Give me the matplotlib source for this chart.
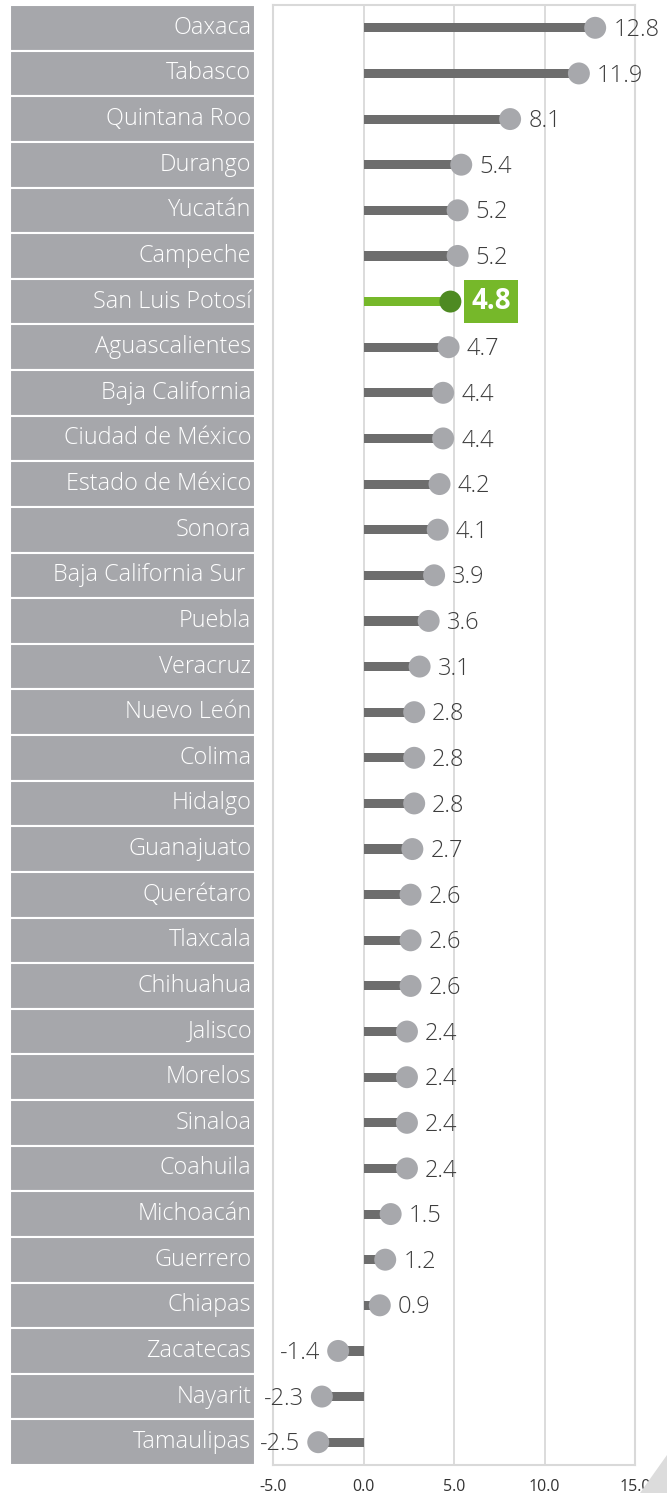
import matplotlib.pyplot as plt
from matplotlib.patches import Polygon

# Data
states = ['Oaxaca', 'Tabasco', 'Quintana Roo', 'Durango', 'Yucatán', 'Campeche',
          'San Luis Potosí', 'Aguascalientes', 'Baja California', 'Ciudad de México',
          'Estado de México', 'Sonora', 'Baja California Sur ', 'Puebla', 'Veracruz',
          'Nuevo León', 'Colima', 'Hidalgo', 'Guanajuato', 'Querétaro', 'Tlaxcala',
          'Chihuahua', 'Jalisco', 'Morelos', 'Sinaloa', 'Coahuila', 'Michoacán',
          'Guerrero', 'Chiapas', 'Zacatecas', 'Nayarit', 'Tamaulipas']
values = [12.8, 11.9, 8.1, 5.4, 5.2, 5.2, 4.8, 4.7, 4.4, 4.4, 4.2, 4.1, 3.9, 3.6, 3.1,
          2.8, 2.8, 2.8, 2.7, 2.6, 2.6, 2.6, 2.4, 2.4, 2.4, 2.4, 1.5, 1.2, 0.9,
          -1.4, -2.3, -2.5]
highlight = 'San Luis Potosí'
xticks = [-5, 0, 5, 10, 15]

plt.rcParams['font.family'] = ['Open Sans', 'DejaVu Sans']

W, H = 667, 1493
fig = plt.figure(figsize=(W / 100, H / 100), dpi=100)

top = 1 - 5 / H
bottom = 1 - 1465 / H
n = len(states)
ypos = list(range(n))

# Left label panel
ax_lab = fig.add_axes([10 / W, bottom, 245 / W, top - bottom])
ax_lab.barh(ypos, [1] * n, height=1.0, color='#a6a7ab', edgecolor='white', linewidth=1.5)
for y, s in zip(ypos, states):
    ax_lab.text(0.985, y, s, ha='right', va='center', color='white', fontsize=16.8,
                fontweight='light')
ax_lab.set_xlim(0, 1)
ax_lab.set_ylim(n - 0.5, -0.5)
ax_lab.axis('off')

# Lollipop plot
ax = fig.add_axes([273 / W, bottom, 362 / W, top - bottom])
bar_colors = ['#76b82a' if s == highlight else '#6d6d6d' for s in states]
dot_colors = ['#4e8a22' if s == highlight else '#a7a8ac' for s in states]
ax.barh(ypos, values, height=0.2, color=bar_colors, zorder=2)
ax.scatter(values, ypos, s=250, color=dot_colors, zorder=3, linewidths=0)

for y, v, s in zip(ypos, values, states):
    txt = f'{v:.1f}'
    if s == highlight:
        ax.annotate(txt, (v, y), xytext=(15, 0), textcoords='offset points',
                    ha='left', va='center', fontsize=20, fontweight='bold', color='white',
                    bbox=dict(boxstyle='square,pad=0.25', fc='#76b82a', ec='none'), zorder=4)
    elif v >= 0:
        ax.annotate(txt, (v, y), xytext=(13, -1.5), textcoords='offset points',
                    ha='left', va='center', fontsize=17, fontweight='light',
                    color='#3d3d3d', zorder=4)
    else:
        ax.annotate(txt, (v, y), xytext=(-13, -1.5), textcoords='offset points',
                    ha='right', va='center', fontsize=17, fontweight='light',
                    color='#3d3d3d', zorder=4)

ax.set_xlim(-5, 15)
ax.set_ylim(n - 0.5, -0.5)
ax.set_xticks(xticks)
ax.set_xticklabels([f'{t:.1f}' for t in xticks], fontsize=11.5, color='#333333')
ax.tick_params(axis='x', length=0, pad=10)
ax.set_yticks([])
ax.grid(axis='x', color='#d9d9d9', linewidth=1.3, zorder=0)
for sp in ax.spines.values():
    sp.set_color('#d9d9d9')
    sp.set_linewidth(1.5)

# corner decoration
fig.patches.append(Polygon([[1.0, 1 - 1455 / H], [1.0, 0.0], [640 / W, 0.0]],
                           closed=True, transform=fig.transFigure, fc='#dcdcdc', ec='none'))

fig.savefig('out.png', dpi=100)
